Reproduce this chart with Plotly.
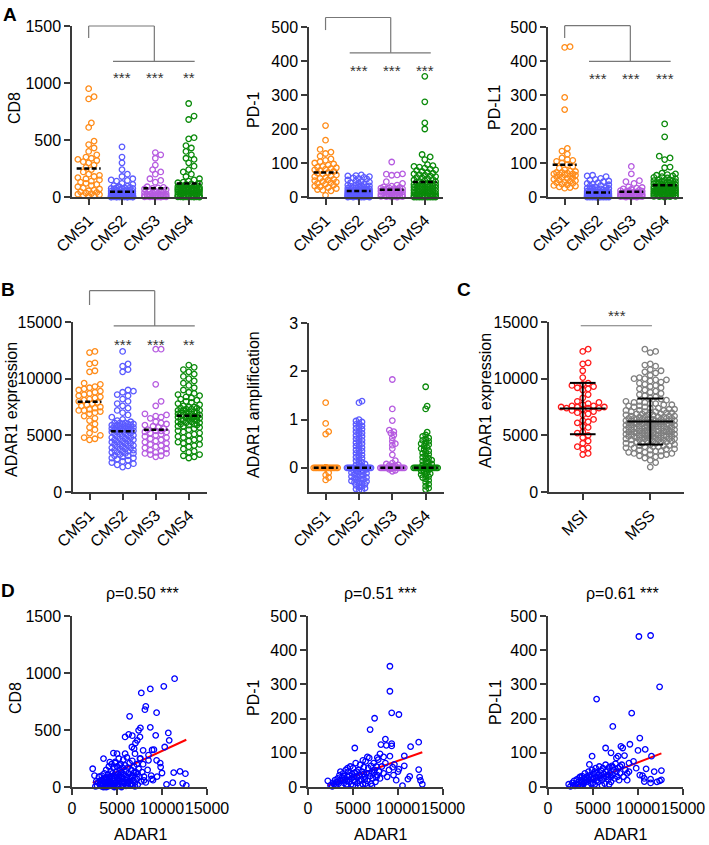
import math
import numpy as np
import plotly.graph_objects as go

W, H = 709, 845
FONT = "Liberation Sans, Arial, sans-serif"
AXC = "#3a3a3a"

# ---------------- data ----------------
groups = ["CMS1", "CMS2", "CMS3", "CMS4"]
group_colors = ["#FF8C1A", "#5B5BFF", "#B65CE0", "#0A8A0A"]

cd8_cms1 = [950, 880, 860, 650, 610, 490, 460, 430, 400, 370, 350, 340, 330, 320, 310,
            300, 280, 260, 240, 220, 200, 190, 180, 170, 160, 150, 140, 130, 120, 110,
            100, 90, 80, 70, 60, 55, 45, 40, 35, 30, 25, 20, 15, 10, 5]
cd8_cms2 = [440, 350, 300, 240, 200, 180, 160, 150, 145, 140,
            120, 110, 100, 95, 90, 85, 80, 75, 70, 65,
            80, 75, 70, 65, 60, 58, 55, 52, 50, 48,
            45, 42, 40, 38, 36, 34, 32, 30, 28, 26,
            25, 24, 22, 21, 20, 19, 18, 17, 16, 15,
            14, 13, 12, 12, 11, 11, 10, 10, 9, 9,
            8, 8, 8, 7, 7, 7, 6, 6, 6, 5,
            5, 5, 5, 4, 4, 4, 4, 3, 3, 3,
            3, 3, 2, 2, 2, 2, 2, 2, 1, 1,
            1, 1, 1, 1, 1, 0, 0, 0, 0, 0]
cd8_cms3 = [390, 370, 340, 280, 240, 220, 200, 160, 145, 130,
            20, 15, 10, 90, 85, 80, 75, 70, 65, 60,
            55, 50, 45, 40, 35, 30, 28, 25, 22, 20,
            18, 15, 12, 10, 8, 6, 5, 4, 3, 2,
            2, 1, 1, 0, 0]
cd8_cms4 = [820, 710, 680, 520, 510, 450, 430, 400, 370, 340,
            330, 300, 270, 240, 220, 200, 180, 160, 150, 140,
            130, 125, 120, 115, 110, 105, 100, 95, 90, 85,
            80, 78, 75, 72, 70, 68, 65, 62, 60, 58,
            85, 80, 78, 75, 72, 70, 68, 65, 62, 60,
            58, 55, 52, 50, 48, 45, 42, 40, 38, 35,
            32, 30, 28, 25, 22, 20, 18, 15, 12, 10,
            9, 8, 7, 6, 5, 5, 4, 4, 3, 3,
            2, 2, 2, 1, 1, 1, 0, 0, 0, 0]

pd1_cms1 = [210, 167, 140, 132, 128, 120, 112, 108, 104, 100,
            97, 94, 90, 88, 86, 84, 82, 80, 78, 75,
            72, 70, 68, 65, 62, 60, 57, 55, 52, 50,
            48, 46, 44, 42, 40, 38, 35, 32, 30, 28,
            25, 22, 20, 18, 5]
pd1_cms2 = [65, 63, 62, 60, 58, 56, 55, 53, 50, 48,
            46, 44, 42, 40, 38, 36, 35, 34, 33, 32,
            31, 30, 29, 28, 27, 26, 25, 24, 23, 22,
            22, 21, 20, 20, 19, 19, 18, 18, 17, 17,
            16, 16, 15, 15, 14, 14, 13, 13, 12, 12,
            12, 11, 11, 10, 10, 10, 9, 9, 9, 8,
            8, 8, 7, 7, 7, 6, 6, 6, 5, 5,
            5, 5, 4, 4, 4, 4, 3, 3, 3, 3,
            3, 2, 2, 2, 2, 2, 2, 1, 1, 1,
            1, 1, 1, 1, 0, 0, 0, 0, 0, 0]
pd1_cms3 = [103, 68, 67, 65, 64, 45, 40, 35, 32, 30,
            28, 27, 26, 25, 24, 23, 22, 21, 20, 19,
            18, 17, 16, 15, 14, 13, 12, 11, 10, 9,
            8, 7, 6, 5, 5, 4, 4, 3, 3, 2,
            2, 1, 1, 0, 0]
pd1_cms4 = [355, 280, 218, 200, 125, 118, 110, 95, 92, 90,
            88, 85, 82, 80, 78, 75, 72, 70, 68, 66,
            64, 62, 60, 58, 56, 54, 52, 50, 48, 46,
            45, 44, 42, 40, 39, 38, 37, 36, 35, 34,
            33, 32, 31, 30, 30, 29, 28, 27, 26, 25,
            24, 23, 22, 21, 20, 19, 18, 17, 16, 15,
            14, 13, 12, 11, 10, 9, 8, 8, 7, 6,
            5, 5, 4, 4, 3, 3, 2, 2, 1, 1,
            1, 0, 0, 0, 0, 0, 0, 0, 0, 0]

pdl1_cms1 = [442, 440, 293, 257, 143, 135, 126, 115, 110, 108,
             105, 100, 95, 90, 85, 80, 76, 72, 68, 65,
             75, 72, 70, 68, 66, 64, 62, 60, 58, 56,
             54, 52, 50, 48, 46, 44, 42, 40, 38, 36,
             34, 32, 30, 28, 26]
pdl1_cms2 = [64, 62, 60, 55, 52, 50, 47, 45, 42, 40,
             38, 36, 34, 32, 30, 28, 27, 26, 25, 24,
             23, 22, 21, 20, 19, 18, 17, 16, 16, 15,
             15, 14, 14, 13, 13, 12, 12, 11, 11, 10,
             10, 10, 9, 9, 9, 8, 8, 8, 7, 7,
             7, 6, 6, 6, 6, 5, 5, 5, 5, 4,
             4, 4, 4, 4, 3, 3, 3, 3, 3, 3,
             2, 2, 2, 2, 2, 2, 2, 1, 1, 1,
             1, 1, 1, 1, 1, 1, 0, 0, 0, 0,
             0, 0, 0, 0, 0, 0, 0, 0, 0, 0]
pdl1_cms3 = [90, 68, 48, 45, 40, 30, 28, 26, 24, 22,
             20, 19, 18, 17, 16, 15, 14, 13, 12, 11,
             10, 10, 9, 9, 8, 8, 7, 7, 6, 6,
             5, 5, 4, 4, 3, 3, 2, 2, 2, 1,
             1, 1, 0, 0, 0]
pdl1_cms4 = [215, 177, 120, 115, 110, 88, 86, 70, 68, 66,
             64, 62, 60, 58, 56, 54, 52, 50, 49, 48,
             47, 46, 45, 44, 43, 42, 41, 40, 39, 38,
             37, 36, 35, 34, 33, 32, 31, 30, 29, 28,
             27, 26, 25, 24, 23, 22, 21, 20, 20, 19,
             18, 18, 17, 16, 15, 15, 14, 13, 12, 12,
             11, 10, 10, 9, 8, 8, 7, 6, 6, 5,
             5, 4, 4, 3, 3, 2, 2, 1, 1, 0,
             30, 28, 26, 24, 22, 20, 18, 16, 14, 12]

adar1_cms1 = [12400, 12300, 11400, 11300, 10700, 10600, 9600, 9500, 9300, 9000,
              9200, 9100, 8900, 8800, 8700, 8600, 8500, 8400, 8300, 8200,
              8100, 8000, 7900, 7800, 7700, 7600, 7500, 7400, 7300, 7200,
              7200, 7100, 7000, 6900, 6700, 6500, 6300, 6000, 5700, 5500,
              5200, 5000, 4800, 4700, 4600]
adar1_cms2 = [12400, 11300, 11100, 10800, 10600, 9000, 8900, 8800, 8600, 8500,
              8200, 8000, 7800, 7600, 7400, 7200, 7000, 6800, 6600, 6400,
              6300, 6200, 6100, 6000, 5900, 5800, 5700, 5600, 5500, 5400,
              6100, 6100, 6000, 6000, 5900, 5900, 5800, 5800, 5700, 5700,
              5600, 5600, 5500, 5500, 5400, 5400, 5300, 5300, 5200, 5200,
              5100, 5100, 5000, 5000, 4900, 4900, 4800, 4800, 4700, 4700,
              4600, 4600, 4500, 4500, 4400, 4400, 4300, 4300, 4200, 4200,
              4100, 4100, 4000, 4000, 3900, 3900, 3800, 3800, 3700, 3700,
              3600, 3500, 3400, 3300, 3200, 3100, 3000, 2900, 2800, 2700,
              2600, 2500, 2400, 2300, 2200, 3000, 3200, 3400, 3500, 3600]
adar1_cms3 = [12600, 12600, 9500, 8000, 7600, 6900, 6800, 6700, 6600, 6500,
              6200, 6100, 6000, 5900, 5800, 5700, 5600, 5500, 5400, 5300,
              5400, 5300, 5200, 5100, 5000, 4900, 4800, 4700, 4600, 4500,
              4400, 4300, 4200, 4100, 4000, 3900, 3800, 3700, 3600, 3500,
              3400, 3400, 3300, 3200, 3100]
adar1_cms4 = [11200, 11000, 10800, 10600, 10400, 10200, 10000, 9800, 9600, 9400,
              9200, 9000, 8800, 8700, 8600, 8500, 8400, 8300, 8200, 8100,
              8000, 7900, 7800, 7700, 7600, 7500, 7500, 7400, 7400, 7300,
              7300, 7200, 7200, 7100, 7100, 7000, 7000, 6900, 6900, 6800,
              6800, 6700, 6700, 6600, 6600, 6500, 6500, 6400, 6400, 6300,
              6300, 6200, 6200, 6100, 6100, 6000, 6000, 5900, 5900, 5800,
              5800, 5700, 5600, 5500, 5400, 5300, 5200, 5100, 5000, 4900,
              4800, 4700, 4600, 4500, 4400, 4300, 4200, 4100, 4000, 3800,
              3600, 3500, 3300, 3200, 3100, 3000, 7000, 7200, 6600, 6400]

amp_cms1 = [1.35, 0.92, 0.75, 0.70, -0.10, -0.15, -0.20, -0.25] + [0.0] * 37
amp_cms2 = [1.38, 1.35, 1.00, 0.97, 0.95, 0.92, 0.90, 0.87, 0.85, 0.82,
            0.80, 0.77, 0.75, 0.72, 0.70, 0.67, 0.65, 0.62, 0.60, 0.57,
            0.55, 0.52, 0.50, 0.47, 0.45, 0.42, 0.40, 0.37, 0.35, 0.32,
            0.30, 0.27, 0.25, 0.22, 0.20, 0.17, 0.15, 0.12, 0.10, 0.08,
            0.06, 0.04, 0.02,
            -0.02, -0.04, -0.06, -0.08, -0.10, -0.12, -0.14, -0.16, -0.18, -0.20,
            -0.22, -0.24, -0.26, -0.28, -0.30, -0.32, -0.34, -0.36, -0.38, -0.40,
            -0.42, -0.44, -0.46, -0.47, -0.31, -0.27, -0.23, -0.19, -0.15, -0.11,
            -0.07, -0.03] + [0.0] * 50
amp_cms3 = [1.83, 1.22, 0.98, 0.78, 0.75, 0.72, 0.68, 0.62, 0.55, 0.50,
            0.47, 0.40, 0.27, 0.15, 0.10, 0.08, 0.06, 0.05, 0.04, 0.03,
            -0.03, -0.05, -0.07] + [0.0] * 22
amp_cms4 = [1.68, 1.28, 1.22, 0.74, 0.68, 0.65, 0.62, 0.60, 0.57, 0.55,
            0.52, 0.50, 0.48, 0.45, 0.42, 0.40, 0.38, 0.35, 0.32, 0.30,
            0.28, 0.25, 0.22, 0.20, 0.18, 0.16, 0.14, 0.12, 0.10, 0.08,
            0.06, 0.04, 0.02,
            -0.02, -0.04, -0.06, -0.08, -0.10, -0.12, -0.14, -0.16, -0.18, -0.20,
            -0.23, -0.26, -0.30, -0.34, -0.38, -0.42, -0.45] + [0.0] * 50

msi_labels = ["MSI", "MSS"]
msi_colors = ["#FF1A1A", "#7F7F7F"]
adar1_msi = [12600, 12400, 11400, 11300, 10700, 10100, 9600, 9500, 9400, 9300,
             9200, 9100, 9000, 8600, 8300, 8000, 7900, 7800, 7700, 7600,
             7500, 7500, 7500, 7400, 7400, 7400, 7300, 7200, 7100, 7000,
             6900, 6800, 6400, 6300, 6200, 6100, 5800, 5700, 5300, 5200,
             5000, 4800, 4500, 4300, 4000, 3900, 3800, 3400, 3300, 7600]
adar1_mss = [12600, 12400, 12300, 11300, 11200, 11100, 10800, 10700, 10600, 10500,
             10300, 10100, 10000, 10000, 9900, 9900, 9800, 9700, 9600, 9500,
             9400, 9300, 9200, 9100, 9000, 8900, 8800, 8700, 8600, 8500,
             8400, 8300, 8200, 8100, 8000, 8000, 7900, 7900, 7800, 7800,
             7700, 7700, 7600, 7600, 7500, 7500, 7400, 7400, 7300, 7300,
             7200, 7200, 7200, 7100, 7100, 7100, 7000, 7000, 7000, 6900,
             6900, 6900, 6800, 6800, 6800, 6700, 6700, 6700, 6600, 6600,
             6600, 6600, 6500, 6500, 6500, 6500, 6400, 6400, 6400, 6400,
             6300, 6300, 6300, 6300, 6200, 6200, 6200, 6200, 6100, 6100,
             6100, 6100, 6000, 6000, 6000, 6000, 5900, 5900, 5900, 5900,
             5800, 5800, 5800, 5800, 5700, 5700, 5700, 5700, 5600, 5600,
             5600, 5600, 5500, 5500, 5500, 5500, 5400, 5400, 5400, 5400,
             5300, 5300, 5300, 5300, 5200, 5200, 5200, 5200, 5100, 5100,
             5100, 5100, 5000, 5000, 5000, 5000, 4900, 4900, 4900, 4900,
             4800, 4800, 4800, 4800, 4700, 4700, 4700, 4700, 4600, 4600,
             4600, 4500, 4500, 4500, 4400, 4400, 4400, 4300, 4300, 4300,
             4200, 4200, 4200, 4100, 4100, 4100, 4000, 4000, 4000, 3900,
             3900, 3800, 3800, 3700, 3700, 3600, 3600, 3500, 3500, 3400,
             3400, 3300, 3300, 3200, 3200, 3100, 3000, 2800, 2600, 2200,
             6500, 6400, 6300, 6200, 6100, 6000, 5900, 5800, 5700, 5600,
             5500, 5400, 5300, 5200, 5100, 5000, 4900, 4800, 4700, 4600]

# panel D scatter data (ADAR1 vs marker)
d1_adar1 = [11400, 10200, 8700, 7700, 8200, 8100, 9400, 6400, 10700, 7600,
            8700, 9300, 7400, 5900, 6700, 6300, 10800, 12000, 12600, 11300,
            12300, 12700, 11200, 10500, 2300, 8900, 9100, 6900, 4600, 10300,
            9400, 9800, 9850, 10000, 9450, 8850, 8000, 8500, 7550, 7000,
            7250, 7050, 7550, 6650, 7900, 3500, 4200, 4800, 5300, 5900, 5000,
            2800, 2900, 3000, 3100, 3200, 3300, 3300, 3400, 3500, 3500,
            3600, 3600, 3700, 3800, 3800, 3900, 4000, 4000, 4100, 4100,
            4200, 4200, 4300, 4300, 4400, 4400, 4500, 4500, 4600, 4600,
            4700, 4700, 4800, 4800, 4900, 4900, 5000, 5000, 5100, 5100,
            5200, 5200, 5300, 5300, 5400, 5400, 5500, 5500, 5600, 5600,
            5700, 5700, 5800, 5800, 5900, 6000, 6000, 6100, 6100, 6200,
            6200, 6300, 6400, 6400, 6500, 6600, 6600, 6700, 6800, 6800,
            6900, 7000, 7100, 7200, 7200, 7300, 7400, 7500, 7600, 7700,
            7800, 7900, 8000, 8200, 8400, 8500, 8800, 9000, 2500, 2700,
            2600, 3800, 4500, 5000, 5500, 6000, 6500, 7000, 3200, 4200,
            3400, 3700, 4100, 4400, 4700, 5100, 5400, 5800, 6200, 6600,
            3900, 4300, 4900, 5600, 6100, 6700, 7300, 3100, 5200, 6900]
d1_cd8 = [950, 883, 860, 825, 708, 678, 652, 620, 474, 518,
          523, 453, 497, 439, 450, 462, 409, 137, 117, 126,
          32, 15, 38, 23, 160, 325, 327, 336, 298, 351,
          234, 210, 175, 123, 91, 70, 58, 234, 249, 292,
          409, 386, 439, 351, 322, 249, 219, 210, 190, 292, 292,
          10, 40, 90, 20, 60, 5, 100, 30, 70, 0,
          120, 45, 15, 85, 150, 35, 5, 110, 60, 180,
          20, 90, 140, 50, 10, 200, 75, 120, 30, 170,
          95, 0, 60, 220, 130, 40, 80, 180, 15, 110,
          250, 55, 150, 25, 90, 200, 45, 130, 10, 170,
          70, 240, 110, 30, 190, 60, 140, 90, 260, 20,
          170, 120, 50, 210, 80, 150, 30, 230, 100, 60,
          180, 40, 130, 200, 70, 20, 160, 90, 250, 50,
          130, 200, 90, 40, 150, 280, 100, 60, 100, 50,
          5, 0, 20, 5, 0, 10, 15, 5, 25, 45,
          55, 30, 75, 35, 15, 65, 110, 40, 35, 95,
          65, 25, 100, 45, 75, 20, 115, 50, 80, 125]

d2_adar1 = [9100, 9100, 9300, 10100, 7400, 6900, 8600, 9300, 9300, 12300,
            11400, 8100, 10700, 9100, 8400, 7700, 5200, 12300, 12400, 12500,
            12700, 11100, 11300, 10500, 7100, 2200, 6100, 6600, 9600, 9400,
            10700, 10100, 8000, 8700,
            2500, 2700, 2800, 2900, 3000, 3100, 3200, 3300, 3400, 3500,
            3600, 3700, 3800, 3900, 4000, 4100, 4200, 4300, 4400, 4500,
            4600, 4700, 4800, 4900, 5000, 5000, 5100, 5200, 5300, 5400,
            5500, 5600, 5700, 5800, 5900, 6000, 6100, 6200, 6300, 6400,
            6500, 6600, 6700, 6800, 6900, 7000, 7100, 7200, 7300, 7400,
            7500, 7600, 7700, 7800, 7900, 8000, 8200, 8400, 8600, 8800,
            9000, 9500, 9800, 10000, 3600, 4400, 5200, 5800, 6400, 4800,
            4000, 5500, 6200, 7000, 7600, 3300, 3900, 4600, 5100, 5700,
            6300, 6800, 7300, 4300, 5400]
d2_pd1 = [353, 280, 217, 212, 201, 168, 140, 127, 120, 131,
          118, 124, 91, 90, 88, 86, 114, 51, 29, 19,
          8, 23, 31, 4, 3, 18, 78, 88, 66, 58,
          62, 52, 97, 122,
          5, 2, 12, 8, 20, 5, 15, 25, 10, 35,
          18, 4, 28, 40, 12, 22, 50, 8, 30, 45,
          15, 60, 25, 38, 5, 55, 20, 42, 70, 30,
          12, 50, 35, 65, 22, 45, 8, 58, 30, 75,
          40, 18, 55, 85, 32, 62, 45, 25, 70, 50,
          15, 60, 35, 80, 45, 25, 60, 40, 70, 30,
          50, 35, 20, 45, 45, 55, 15, 5, 10, 8,
          32, 28, 38, 10, 28, 14, 20, 34, 30, 18,
          22, 40, 42, 18, 45]

d3_adar1 = [10100, 11400, 12400, 5400, 9300, 7200, 10200, 8100, 8300, 6400,
            9100, 10800, 10000, 11500, 10900, 12600, 12600, 11400, 11400, 12400,
            10700, 10700, 10500, 4900, 4600, 2300, 7000, 7600, 7800, 8500,
            9000, 9500, 9800, 10200, 11800, 12100, 8000, 8800,
            2500, 2700, 2800, 2900, 3000, 3100, 3200, 3300, 3400, 3500,
            3600, 3700, 3800, 3900, 4000, 4100, 4200, 4300, 4400, 4500,
            4600, 4700, 4800, 4900, 5000, 5100, 5200, 5300, 5400, 5500,
            5600, 5700, 5800, 5900, 6000, 6100, 6200, 6300, 6400, 6500,
            6600, 6700, 6800, 6900, 7000, 7100, 7200, 7300, 7400, 7500,
            7600, 7700, 7800, 7900, 8000, 8200, 8400, 8600, 8800, 9000,
            4400, 5200, 6000, 6800, 3600, 5600, 4800, 4000, 6400, 7200,
            3400, 3800, 4200, 4600, 5000, 5400, 5800, 6200, 6600, 7000]
d3_pdl1 = [440, 443, 293, 257, 216, 177, 143, 119, 114, 114,
           125, 110, 107, 90, 53, 48, 21, 23, 12, 18,
           16, 25, 33, 90, 66, 8, 100, 85, 90, 92,
           70, 75, 55, 35, 45, 15, 60, 40,
           2, 12, 5, 18, 3, 10, 22, 6, 15, 28,
           4, 20, 32, 9, 25, 40, 14, 30, 5, 45,
           20, 35, 10, 50, 25, 38, 8, 55, 28, 42,
           15, 60, 32, 48, 20, 55, 38, 10, 65, 30,
           48, 22, 58, 40, 15, 62, 35, 50, 25, 68,
           45, 30, 55, 20, 40, 65, 30, 50, 20, 45,
           25, 45, 5, 8, 30, 35, 28, 12, 45, 58,
           8, 14, 20, 30, 12, 18, 25, 28, 35, 30]

# fit lines (slope per ADAR1 unit, intercept)
fit_d1 = (0.0364, -48.0)
fit_d2 = (0.00925, -15.8)
fit_d3 = (0.01015, -29.6)

assert len(d1_adar1) == len(d1_cd8)
assert len(d2_adar1) == len(d2_pd1)
assert len(d3_adar1) == len(d3_pdl1)

# ---------------- layout helpers ----------------
def xkey(n): return "xaxis" + ("" if n == 1 else str(n))
def ykey(n): return "yaxis" + ("" if n == 1 else str(n))
def xref(n): return "x" + ("" if n == 1 else str(n))
def yref(n): return "y" + ("" if n == 1 else str(n))

CAT_R = [-0.5, 3.55]
panels = {
    1: dict(xd=(72, 207), yd=(26, 197), xr=CAT_R, yr=[0, 1500], yt=[0, 500, 1000, 1500]),
    2: dict(xd=(309, 443), yd=(27, 197), xr=CAT_R, yr=[0, 500], yt=[0, 100, 200, 300, 400, 500]),
    3: dict(xd=(548, 683), yd=(27, 197), xr=CAT_R, yr=[0, 500], yt=[0, 100, 200, 300, 400, 500]),
    4: dict(xd=(73, 207), yd=(322, 492), xr=CAT_R, yr=[0, 15000], yt=[0, 5000, 10000, 15000]),
    5: dict(xd=(309, 444), yd=(323, 492), xr=CAT_R, yr=[-0.5, 3], yt=[0, 1, 2, 3]),
    6: dict(xd=(549, 684), yd=(322, 492), xr=[-0.5, 1.5], yr=[0, 15000], yt=[0, 5000, 10000, 15000]),
    7: dict(xd=(72, 207), yd=(616, 787), xr=[0, 15000], yr=[0, 1500], yt=[0, 500, 1000, 1500]),
    8: dict(xd=(308, 443), yd=(616, 787), xr=[0, 15000], yr=[0, 500], yt=[0, 100, 200, 300, 400, 500]),
    9: dict(xd=(548, 683), yd=(616, 787), xr=[0, 15000], yr=[0, 500], yt=[0, 100, 200, 300, 400, 500]),
}

def ppx(n):
    p = panels[n]
    return (p["xd"][1] - p["xd"][0]) / (p["xr"][1] - p["xr"][0])

def ppy(n):
    p = panels[n]
    return (p["yd"][1] - p["yd"][0]) / (p["yr"][1] - p["yr"][0])

def swarm_offsets(vals, py_scale, px_scale, diam=5.4, max_px=13.0):
    n = len(vals)
    order = sorted(range(n), key=lambda i: vals[i])
    step = diam / 2.0
    cands = [0.0]
    k = 1
    while k * step <= max_px + 1e-9:
        cands += [k * step, -k * step]
        k += 1
    placed = []
    offs = [0.0] * n
    for i in order:
        y = vals[i] * py_scale
        near = [(a, b) for (a, b) in placed if abs(b - y) < diam]
        chosen = None
        best_c, best_d = 0.0, -1.0
        for c in cands:
            d = min((math.hypot(c - a, y - b) for a, b in near), default=1e9)
            if d >= diam * 0.98:
                chosen = c
                break
            if d > best_d:
                best_d, best_c = d, c
        if chosen is None:
            chosen = best_c
        placed.append((chosen, y))
        offs[i] = chosen / px_scale
    return offs

fig = go.Figure()
shapes = []
annotations = []

def dash_line(n, x0, x1, y, width=2.5, dash="5px,2.5px"):
    shapes.append(dict(type="line", xref=xref(n), yref=yref(n), x0=x0, x1=x1, y0=y, y1=y,
                       line=dict(color="black", width=width, dash=dash), layer="above"))

def dom_x(n, v):
    r = panels[n]["xr"]; return (v - r[0]) / (r[1] - r[0])

def dom_y(n, v):
    r = panels[n]["yr"]; return (v - r[0]) / (r[1] - r[0])

def seg(n, x0, y0, x1, y1, color="#777777", width=1.2):
    shapes.append(dict(type="line", xref=xref(n) + " domain", yref=yref(n) + " domain",
                       x0=dom_x(n, x0), x1=dom_x(n, x1), y0=dom_y(n, y0), y1=dom_y(n, y1),
                       line=dict(color=color, width=width)))

def star(n, x, y, text, size=15):
    annotations.append(dict(x=dom_x(n, x), y=dom_y(n, y), xref=xref(n) + " domain", yref=yref(n) + " domain",
                            text=text, showarrow=False,
                            font=dict(family=FONT, size=size, color="#333333"),
                            xanchor="center", yanchor="middle", yshift=-4))

def add_groups(n, lists, colors, center="mean", max_units=0.4, diam=5.4):
    for g, (vals, col) in enumerate(zip(lists, colors)):
        offs = swarm_offsets(vals, ppy(n), ppx(n), diam=diam, max_px=max_units * ppx(n))
        fig.add_trace(go.Scatter(
            x=[g + o for o in offs], y=vals, mode="markers",
            marker=dict(symbol="circle-open", size=5.5, color=col, line=dict(width=1.3, color=col)),
            cliponaxis=False, hoverinfo="skip",
            xaxis=xref(n), yaxis=yref(n)))
        c = float(np.mean(vals)) if center == "mean" else float(np.median(vals))
        dash_line(n, g - 0.36, g + 0.36, c)

# ---- panel A ----
add_groups(1, [cd8_cms1, cd8_cms2, cd8_cms3, cd8_cms4], group_colors)
add_groups(2, [pd1_cms1, pd1_cms2, pd1_cms3, pd1_cms4], group_colors)
add_groups(3, [pdl1_cms1, pdl1_cms2, pdl1_cms3, pdl1_cms4], group_colors)
# ---- panel B ----
add_groups(4, [adar1_cms1, adar1_cms2, adar1_cms3, adar1_cms4], group_colors)
add_groups(5, [amp_cms1, amp_cms2, amp_cms3, amp_cms4], group_colors, center="median", diam=3.0)

# brackets: (start, top, lower, stars) in data y of each panel
brackets = {
    1: ((1395, 1500, 1190, 1080), ["***", "***", "**"]),
    2: ((491, 528, 424, 385), ["***", "***", "***"]),
    3: ((468, 504, 399, 360), ["***", "***", "***"]),
    4: ((16500, 17760, 14650, 13400), ["***", "***", "**"]),
}
for n, ((ys, yt, yl, ystar), stars) in brackets.items():
    seg(n, 0, ys, 0, yt)
    seg(n, 0, yt, 1.97, yt)
    seg(n, 1.97, yt, 1.97, yl)
    seg(n, 0.73, yl, 3.18, yl)
    for g, s in enumerate(stars):
        star(n, g + 1, ystar, s)

# ---- panel C ----
for g, (vals, col) in enumerate(zip([adar1_msi, adar1_mss], msi_colors)):
    offs = swarm_offsets(vals, ppy(6), ppx(6), max_px=0.36 * ppx(6))
    fig.add_trace(go.Scatter(
        x=[g + o for o in offs], y=vals, mode="markers",
        marker=dict(symbol="circle-open", size=5.5, color=col, line=dict(width=1.3, color=col)),
        cliponaxis=False, hoverinfo="skip", xaxis="x6", yaxis="y6"))
    m = float(np.mean(vals)); sd = float(np.std(vals, ddof=1))
    shapes.append(dict(type="line", xref="x6", yref="y6", x0=g - 0.34, x1=g + 0.34, y0=m, y1=m,
                       line=dict(color="black", width=2)))
    for yy in (m - sd, m + sd):
        shapes.append(dict(type="line", xref="x6", yref="y6", x0=g - 0.19, x1=g + 0.19, y0=yy, y1=yy,
                           line=dict(color="black", width=2)))
    shapes.append(dict(type="line", xref="x6", yref="y6", x0=g, x1=g, y0=m - sd, y1=m + sd,
                       line=dict(color="black", width=2)))
seg(6, -0.03, 14670, 1.025, 14670)
star(6, 0.5, 15900, "***")

# ---- panel D ----
for n, xs, ys, fit in [(7, d1_adar1, d1_cd8, fit_d1), (8, d2_adar1, d2_pd1, fit_d2), (9, d3_adar1, d3_pdl1, fit_d3)]:
    fx = [min(xs), max(xs)]
    fig.add_trace(go.Scatter(x=fx, y=[fit[0] * v + fit[1] for v in fx], mode="lines",
                             line=dict(color="#FF0000", width=2), hoverinfo="skip",
                             xaxis=xref(n), yaxis=yref(n)))
    fig.add_trace(go.Scatter(x=xs, y=ys, mode="markers",
                             marker=dict(symbol="circle-open", size=5.5, color="#0000FF",
                                         line=dict(width=1.3, color="#0000FF")),
                             cliponaxis=False, hoverinfo="skip", xaxis=xref(n), yaxis=yref(n)))

# ---------------- axes ----------------
layout = dict(width=W, height=H, margin=dict(l=0, r=0, t=0, b=0, pad=0, autoexpand=False), autosize=False,
              paper_bgcolor="white", plot_bgcolor="white", showlegend=False,
              font=dict(family=FONT, color="black"))
common = dict(showline=True, linecolor=AXC, linewidth=1.5, ticks="outside", ticklen=6, tickwidth=1.5,
              tickcolor=AXC, showgrid=False, zeroline=False, fixedrange=True, automargin=False,
              tickfont=dict(family=FONT, size=16, color="black"))
for n, p in panels.items():
    xa = dict(common, domain=[p["xd"][0] / W, p["xd"][1] / W], range=p["xr"], anchor=yref(n))
    if n <= 5:
        xa.update(tickmode="array", tickvals=[0, 1, 2, 3], ticktext=groups, tickangle=-45)
    elif n == 6:
        xa.update(tickmode="array", tickvals=[0, 1], ticktext=msi_labels, tickangle=-45)
    else:
        xt = [0, 5000, 10000, 15000]
        xa.update(tickmode="array", tickvals=xt, ticktext=[str(v) for v in xt], tickangle=0)
    ya = dict(common, domain=[1 - p["yd"][1] / H, 1 - p["yd"][0] / H], range=p["yr"], anchor=xref(n),
              tickmode="array", tickvals=p["yt"], ticktext=[str(v) for v in p["yt"]])
    layout[xkey(n)] = xa
    layout[ykey(n)] = ya

def ptext(px, py, text, size=16, angle=0, bold=False, anchor="center"):
    annotations.append(dict(x=px / W, y=1 - py / H, xref="paper", yref="paper",
                            text=("<b>%s</b>" % text) if bold else text, showarrow=False,
                            textangle=angle, xanchor=anchor, yanchor="middle",
                            font=dict(family=FONT, size=size, color="black")))

# axis titles
ptext(15, 108, "CD8", angle=-90)
ptext(253, 110, "PD-1", angle=-90)
ptext(495, 108, "PD-L1", angle=-90)
ptext(11, 410, "ADAR1 expression", angle=-90)
ptext(253, 405, "ADAR1 amplification", angle=-90)
ptext(486, 401, "ADAR1 expression", angle=-90)
ptext(15, 698, "CD8", angle=-90)
ptext(253, 698, "PD-1", angle=-90)
ptext(495, 703, "PD-L1", angle=-90)
ptext(140, 834, "ADAR1")
ptext(380, 834, "ADAR1")
ptext(620, 834, "ADAR1")
# rho labels
ptext(142, 593, "ρ=0.50 ***")
ptext(380, 593, "ρ=0.51 ***")
ptext(622, 593, "ρ=0.61 ***")
# panel letters
ptext(10, 15, "A", size=19, bold=True)
ptext(8, 289, "B", size=19, bold=True)
ptext(464, 289, "C", size=19, bold=True)
ptext(8, 590, "D", size=19, bold=True)

layout["shapes"] = shapes
layout["annotations"] = annotations
fig.update_layout(**layout)
fig.write_html("out.html", config={"displayModeBar": False},
               post_script="document.body.style.margin='0px';document.body.style.padding='0px';"
                           "document.documentElement.style.overflow='hidden';")
